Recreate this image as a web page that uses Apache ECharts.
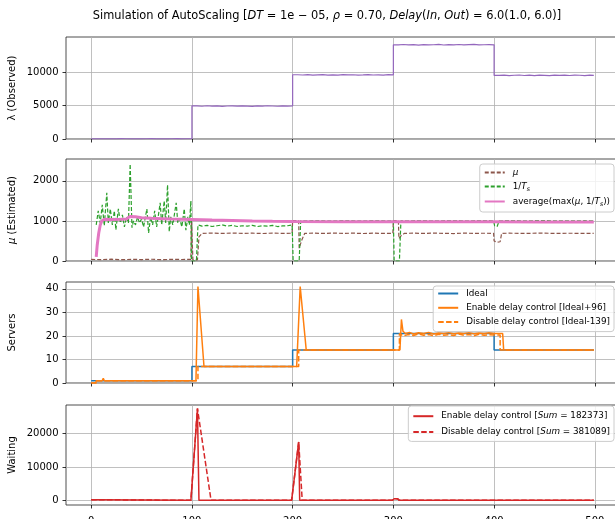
<!DOCTYPE html>
<html><head><meta charset="utf-8">
<script src="https://cdn.jsdelivr.net/npm/echarts@6/dist/echarts.min.js"></script>
<style>html,body{margin:0;padding:0;background:#fff}#c{width:615px;height:519px}</style>
</head><body><div id="c"></div>
<script>
// ---------- data ----------
const xTicks = [0, 100, 200, 300, 400, 500];
const yTicksLambda = [0, 5000, 10000];
const yTicksMu = [0, 1000, 2000];
const yTicksServers = [0, 10, 20, 30, 40];
const yTicksWaiting = [0, 10000, 20000];

const tGrid = [0,5,10,15,20,25,30,35,40,45,50,55,60,65,70,75,80,85,90,95,
  100,105,110,115,120,125,130,135,140,145,150,155,160,165,170,175,180,185,190,195,
  200,205,210,215,220,225,230,235,240,245,250,255,260,265,270,275,280,285,290,295,
  300,305,310,315,320,325,330,335,340,345,350,355,360,365,370,375,380,385,390,395,
  400,405,410,415,420,425,430,435,440,445,450,455,460,465,470,475,480,485,490,495,499];
const lambdaObs = [20,35,25,40,30,45,35,25,40,30,35,50,30,40,25,35,45,30,40,35,
  4950,4900,4980,4920,4960,4890,4940,4970,4910,4950,4930,4890,4960,4920,4980,4940,4900,4950,4930,4960,
  9620,9580,9650,9560,9600,9640,9570,9610,9550,9630,9590,9620,9560,9600,9650,9580,9610,9570,9630,9600,
  14100,14150,14080,14120,14060,14140,14090,14110,14170,14070,14130,14100,14150,14080,14120,14160,14090,14110,14140,14100,
  9520,9560,9490,9540,9580,9510,9550,9500,9570,9530,9490,9560,9520,9550,9510,9570,9540,9500,9560,9530,9540];

const muEst = [[0,40],[10,35],[20,45],[30,32],[40,42],[50,36],[60,44],[70,33],[80,41],[90,37],[99,40],[99.5,1000],[100.5,1000],[101,30],[105.5,30],[107,600],[110,690],[120,695],[130,688],[140,697],[150,690],[160,694],[170,686],[180,696],[190,690],[199.5,693],[200,1010],[206,1010],[206.5,320],[209,520],[212,690],[220,695],[230,688],[240,697],[250,690],[260,695],[270,686],[280,694],[290,690],[299.5,692],[300,1010],[305,1010],[305.5,560],[308,640],[311,690],[320,694],[330,688],[340,696],[350,690],[360,685],[370,695],[380,690],[390,693],[399.5,690],[400,500],[403,470],[406,480],[407.5,690],[415,694],[430,688],[445,696],[460,690],[475,693],[490,688],[499,692]];

const invTs = [[5,900],[7,1250],[9,950],[11,1400],[13,880],[15.5,1700],[17,950],[19,1300],[21,900],[23,1250],[24.5,780],[27,1300],[29,950],[31,1150],[33,850],[35,1100],[37,950],[38.7,2420],[40.5,830],[42,1000],[44,900],[46,1100],[48,950],[50,1050],[52,850],[55.3,1300],[57,700],[59,1100],[61,900],[63,1250],[65,850],[66.5,1100],[68.5,1450],[70,900],[72.5,1500],[74,950],[75.8,1900],[77.5,730],[79,1100],[81,900],[84.4,1450],[86,950],[88,1050],[90,850],[92.4,1300],[94,770],[96,1100],[97.5,900],[99,1500],[99.5,0],[104.5,0],[106,900],[110,870],[115,890],[120,860],[125,880],[130,900],[135,870],[140,890],[145,860],[150,880],[155,870],[160,890],[165,860],[170,880],[175,870],[180,890],[185,860],[190,875],[195,880],[199.5,900],[200.5,0],[206.5,0],[208,1005],[215,1000],[225,1010],[235,1000],[245,1005],[255,1010],[265,1000],[275,1005],[285,1010],[295,1000],[300,1005],[300.8,0],[306,0],[307.5,1005],[315,1000],[325,1010],[335,1005],[345,1000],[355,1010],[365,1005],[375,1000],[385,1010],[395,1005],[399.5,1000],[400.5,880],[403,860],[405,1000],[410,1005],[420,1010],[430,1000],[440,1005],[450,1010],[460,1000],[470,1005],[480,1000],[490,1005],[499,1000]];

const avgMax = [[5,100],[6,400],[7.5,700],[9,900],[10.5,1000],[13,1040],[20,1035],[30,1040],[35,1045],[37,1090],[39,1110],[44,1105],[50,1080],[60,1065],[70,1055],[80,1045],[90,1040],[100,1035],[120,1020],[140,1010],[160,1000],[180,992],[200,985],[250,981],[300,979],[350,978],[400,977],[450,976],[499,976]];

const serversIdeal = [[0,1],[100,7],[200,14],[300,21],[400,14],[499,14]];
const serversEnable = [[0,0],[4.5,0],[5,1],[11,1],[12,2],[13,1],[104,1],[106,41],[112,7],[204,7],[207.5,41],[213.5,14],[306.5,14],[308,27],[309.5,22],[312,21],[316,21.5],[320,20.8],[325,21.3],[330,21],[335,21.5],[340,20.8],[345,21.2],[350,21],[355,21.4],[360,20.9],[365,21.2],[370,21],[375,21.4],[380,20.9],[385,21.2],[390,21],[395,21.3],[400,21],[408.5,21],[409.5,14],[499,14]];
const serversDisable = [[0,0],[5,0],[5,1],[106,1],[106,7],[206,7],[206,14],[306,14],[306,21],[310,20],[315,20.6],[320,20.2],[325,20.8],[330,20.3],[335,20.6],[340,20.1],[345,20.7],[350,20.3],[355,20.5],[360,20.2],[365,20.8],[370,20.3],[375,20.6],[380,20.1],[385,20.7],[390,20.3],[395,20.5],[400,20.4],[406,20.4],[406,14],[499,14]];

const waitEnable = [[0,300],[4,300],[5,100],[99,100],[105.5,27300],[107,100],[199,100],[206,17400],[207,100],[299,100],[301,600],[304,600],[306,100],[499,100]];
const waitDisable = [[0,300],[4,300],[5,100],[99,100],[105.5,27300],[119,100],[199,100],[206,17400],[209.5,100],[299,100],[301,600],[304,600],[306,100],[499,100]];

// ---------- chart ----------
const FONT = 'DejaVu Sans';
const chart = echarts.init(document.getElementById('c'), null, {renderer: 'canvas'});

function xAx(i, showLabel) {
  return {
    type: 'value', gridIndex: i, min: -25, max: 524,
    axisLine: {show: false, onZero: false},
    axisTick: {show: true, customValues: xTicks, length: 3.5, lineStyle: {color: '#000', width: 0.8}},
    axisLabel: {show: showLabel, customValues: xTicks, fontFamily: FONT, fontSize: 10, color: '#000', margin: 11,
      formatter: v => String(v)},
    splitLine: {show: true, lineStyle: {color: '#b0b0b0', width: 0.8}}
  };
}
function yAx(i, min, max, ticks, name) {
  return {
    type: 'value', gridIndex: i, min: min, max: max,
    name: name, nameLocation: 'middle', nameGap: 49, nameMoveOverlap: false,
    nameTextStyle: {fontFamily: FONT, fontSize: 10, color: '#000',
      rich: {i: {fontFamily: FONT, fontStyle: 'italic', fontSize: 10, color: '#000'}}},
    axisLine: {show: false, onZero: false},
    axisTick: {show: true, customValues: ticks, length: 3.5, lineStyle: {color: '#000', width: 0.8}},
    axisLabel: {customValues: ticks, fontFamily: FONT, fontSize: 10, color: '#000', margin: 7.5,
      formatter: v => String(v)},
    splitLine: {show: true, lineStyle: {color: '#b0b0b0', width: 0.8}}
  };
}
function zip(t, v) { return t.map((x, k) => [x, v[k]]); }
function line(name, gi, data, color, width, dash, step) {
  return {
    name: name, type: 'line', xAxisIndex: gi, yAxisIndex: gi, data: data,
    showSymbol: false, symbol: 'none', step: step || false, animation: false,
    lineStyle: {color: color, width: width, type: dash || 'solid'},
    itemStyle: {color: color}
  };
}

const legendNames = {
  'mu': '{i|μ}',
  'invTs': '1/{i|T}{sub|s}',
  'avg': 'average(max({i|μ}, 1/{i|T}{sub|s}))',
  'Ideal': 'Ideal',
  'EnableS': 'Enable delay control [Ideal+96]',
  'DisableS': 'Disable delay control [Ideal-139]',
  'EnableW': 'Enable delay control [{i|Sum} = 182373]',
  'DisableW': 'Disable delay control [{i|Sum} = 381089]'
};
const LF = 8.8;
const legRich = {
  i: {fontFamily: FONT, fontStyle: 'italic', fontSize: LF, color: '#000'},
  sub: {fontFamily: FONT, fontStyle: 'italic', fontSize: 6.2, color: '#000', padding: [5, 0, 0, 0]}
};
function legend(names, top, gap, ih, pad) {
  return {
    data: names, orient: 'vertical', right: 1, top: top, itemWidth: 20, itemHeight: ih, itemGap: gap,
    padding: pad, backgroundColor: 'rgba(255,255,255,0.8)', borderColor: '#cccccc', borderWidth: 1, borderRadius: 3,
    itemStyle: {opacity: 0},
    formatter: n => legendNames[n],
    textStyle: {fontFamily: FONT, fontSize: LF, color: '#000', padding: [0, 0, 0, 3], rich: legRich}
  };
}
const gridBase = {left: 66, width: 553, show: true, borderColor: '#222', borderWidth: 0.8, outerBoundsMode: 'none', containLabel: false};

chart.setOption({
  animation: false,
  backgroundColor: '#fff',
  title: {
    text: '{n|Simulation of AutoScaling [}{i|DT}{n| = 1e − 05, }{i|ρ}{n| = 0.70, }{i|Delay}{n|(}{i|In}{n|, }{i|Out}{n|) = 6.0(1.0, 6.0)]}',
    left: 327, textAlign: 'center', top: 11, padding: 0,
    textStyle: {fontWeight: 'normal', rich: {
      n: {fontFamily: FONT, fontSize: 11.4, fontWeight: 'normal', color: '#000'},
      i: {fontFamily: FONT, fontSize: 11.4, fontWeight: 'normal', fontStyle: 'italic', color: '#000'}
    }}
  },
  grid: [
    Object.assign({top: 37, height: 102}, gridBase),
    Object.assign({top: 159, height: 102}, gridBase),
    Object.assign({top: 282, height: 101}, gridBase),
    Object.assign({top: 405, height: 100}, gridBase)
  ],
  xAxis: [xAx(0, false), xAx(1, false), xAx(2, false), xAx(3, true)],
  yAxis: [
    yAx(0, 0, 15270, yTicksLambda, 'λ (Observed)'),
    yAx(1, 0, 2545, yTicksMu, '{i|μ} (Estimated)'),
    yAx(2, 0, 42.9, yTicksServers, 'Servers'),
    yAx(3, -1270, 28320, yTicksWaiting, 'Waiting')
  ],
  legend: [
    legend(['mu', 'invTs', 'avg'], 164, 5, 10, [4, 4, 5, 4]),
    legend(['Ideal', 'EnableS', 'DisableS'], 286, 5.3, 8, [3, 4, 5, 4]),
    legend(['EnableW', 'DisableW'], 406, 6.7, 10, [5.7, 4, 5, 4])
  ],
  series: [
    line('lambda', 0, zip(tGrid, lambdaObs), '#9467bd', 1.2, 'solid', 'end'),
    line('mu', 1, muEst, '#8c564b', 1.2, [4, 2]),
    line('invTs', 1, invTs, '#2ca02c', 1.2, [4, 2]),
    line('avg', 1, avgMax, '#e377c2', 3),
    line('Ideal', 2, serversIdeal, '#1f77b4', 1.5, 'solid', 'end'),
    line('EnableS', 2, serversEnable, '#ff7f0e', 1.5),
    line('DisableS', 2, serversDisable, '#ff7f0e', 1.5, [5.5, 2.4]),
    line('EnableW', 3, waitEnable, '#d62728', 1.5),
    line('DisableW', 3, waitDisable, '#d62728', 1.5, [5.5, 2.4])
  ]
});
</script>
</body></html>
